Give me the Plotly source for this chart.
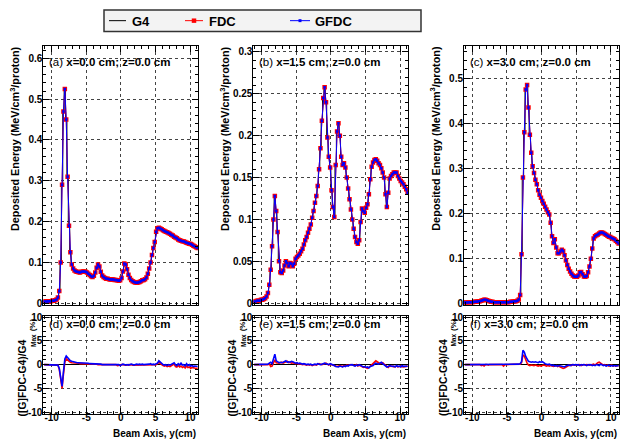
import plotly.graph_objects as go

# ---------------- data ----------------
bin_start = -11.1
bin_width = 0.2
n_bins = 112
beam_y = [round(bin_start + bin_width * i, 1) for i in range(n_bins)]

dose_a = [0.004, 0.004, 0.004, 0.005, 0.005, 0.005, 0.006, 0.006, 0.007, 0.009,
          0.014, 0.03, 0.10, 0.29, 0.47, 0.525, 0.45, 0.31, 0.19, 0.125,
          0.095, 0.085, 0.08, 0.078, 0.077, 0.076, 0.075, 0.077, 0.078, 0.078,
          0.077, 0.075, 0.072, 0.069, 0.066, 0.064, 0.067, 0.075, 0.087, 0.095,
          0.09, 0.077, 0.068, 0.064, 0.062, 0.06, 0.06, 0.059, 0.058, 0.058,
          0.058, 0.057, 0.057, 0.056, 0.055, 0.056, 0.062, 0.078, 0.097, 0.095,
          0.083, 0.07, 0.062, 0.057, 0.054, 0.052, 0.051, 0.05, 0.051, 0.052,
          0.054, 0.056, 0.057, 0.059, 0.063, 0.072, 0.085, 0.1, 0.118, 0.135,
          0.15, 0.175, 0.184, 0.185, 0.183, 0.181, 0.179, 0.177, 0.175, 0.174,
          0.172, 0.17, 0.168, 0.166, 0.163, 0.161, 0.159, 0.156, 0.154, 0.153,
          0.152, 0.151, 0.15, 0.148, 0.147, 0.146, 0.145, 0.143, 0.141, 0.139,
          0.137, 0.135]

dose_b = [0.002, 0.002, 0.003, 0.003, 0.003, 0.004, 0.004, 0.005, 0.006, 0.008,
          0.012, 0.022, 0.04, 0.068, 0.1, 0.128, 0.11, 0.085, 0.05, 0.037,
          0.036, 0.039, 0.045, 0.05, 0.048, 0.044, 0.048, 0.047, 0.044, 0.047,
          0.053, 0.055, 0.057, 0.059, 0.062, 0.065, 0.07, 0.075, 0.079, 0.084,
          0.089, 0.094, 0.102, 0.11, 0.12, 0.128, 0.14, 0.16, 0.185, 0.218,
          0.245, 0.258, 0.24, 0.198, 0.175, 0.162, 0.135, 0.115, 0.103, 0.165,
          0.205, 0.215, 0.2, 0.175, 0.165, 0.167, 0.162, 0.15, 0.137, 0.124,
          0.112, 0.1, 0.089, 0.079, 0.073, 0.071, 0.075, 0.097, 0.113, 0.11,
          0.108, 0.114, 0.118, 0.13, 0.148, 0.163, 0.168, 0.171, 0.172, 0.17,
          0.167, 0.165, 0.161, 0.156, 0.15, 0.13, 0.115, 0.132, 0.149, 0.152,
          0.154, 0.156, 0.156, 0.156, 0.152, 0.149, 0.146, 0.144, 0.142, 0.139,
          0.136, 0.132]

dose_c = [0.003, 0.003, 0.003, 0.004, 0.004, 0.004, 0.004, 0.005, 0.005, 0.005,
          0.006, 0.006, 0.007, 0.008, 0.009, 0.009, 0.008, 0.007, 0.006, 0.005,
          0.005, 0.004, 0.004, 0.004, 0.004, 0.004, 0.004, 0.004, 0.004, 0.004,
          0.004, 0.004, 0.004, 0.005, 0.005, 0.005, 0.006, 0.006, 0.007, 0.01,
          0.02, 0.11, 0.28, 0.38, 0.475, 0.485, 0.435, 0.375, 0.335, 0.305,
          0.29, 0.275, 0.265, 0.252, 0.242, 0.235, 0.228, 0.222, 0.215, 0.209,
          0.203, 0.198, 0.18, 0.15, 0.135, 0.143, 0.125, 0.112, 0.112, 0.116,
          0.12, 0.117, 0.108, 0.096, 0.086, 0.078, 0.072, 0.067, 0.063, 0.061,
          0.06, 0.06, 0.063, 0.07, 0.071, 0.066, 0.061, 0.06, 0.062, 0.07,
          0.083, 0.1, 0.123, 0.145, 0.15, 0.152, 0.154, 0.156, 0.158, 0.158,
          0.157, 0.155, 0.153, 0.151, 0.149, 0.148, 0.146, 0.145, 0.143, 0.14,
          0.137, 0.134]

# (G)FDC-G4 differences, % of G4 max
diff_gfdc_a = [0, 0, 0, 0, 0, 0, 0, 0, 0, 0,
               -0.1, -0.8, -2.5, -4.6, -1.5, 1.2, 1.8, 1.4, 1.0, 0.8,
               0.7, 0.6, 0.5, 0.5, 0.4, 0.4, 0.4, 0.3, 0.3, 0.3,
               0.3, 0.3, 0.3, 0.2, 0.2, 0.2, 0.2, 0.2, 0.2, 0.1,
               0.1, 0.1, 0.0, 0.0, -0.1, 0.0, -0.1, 0.0, -0.1, 0.0,
               -0.1, 0.0, -0.1, -0.1, 0.0, -0.2, 0.0, 0.1, 0.0, -0.1,
               0.0, -0.1, 0.0, 0.1, 0.0, -0.1, 0.0, 0.1, 0.0, 0.1,
               0.0, 0.1, 0.0, 0.0, 0.1, 0.0, 0.1, 0.2, 0.0, 0.1,
               0.0, 0.2, 0.3, 0.8, 0.5, 0.1, 0.0, -0.1, 0.0, -0.2,
               0.0, -0.1, 0.1, 0.2, 0.4, 0.0, -0.2, 0.2, -0.1, 0.3,
               -0.1, 0.0, -0.3, 0.2, -0.2, 0.0, -0.3, -0.2, -0.4, -0.3,
               -0.3, -0.4]
diff_fdc_a = [0, 0, 0, 0, 0, 0, 0, 0, 0, 0,
              -0.1, -1.0, -2.8, -5.0, -2.0, 0.5, 1.2, 0.9, 0.6, 0.5,
              0.4, 0.4, 0.3, 0.3, 0.3, 0.3, 0.2, 0.2, 0.2, 0.2,
              0.2, 0.2, 0.2, 0.1, 0.1, 0.1, 0.1, 0.1, 0.1, 0.0,
              0.0, 0.0, -0.1, 0.0, -0.1, -0.1, 0.0, -0.1, 0.0, -0.1,
              -0.1, -0.1, 0.0, -0.2, -0.1, -0.1, 0.0, 0.0, -0.1, -0.1,
              -0.1, 0.0, -0.1, 0.0, -0.1, -0.1, 0.0, -0.1, -0.1, 0.0,
              -0.1, 0.0, -0.1, -0.1, 0.0, -0.1, 0.0, 0.0, -0.1, 0.0,
              -0.1, 0.0, 0.2, 0.5, 0.2, -0.1, -0.2, -0.3, -0.2, -0.4,
              -0.3, -0.4, -0.2, -0.1, 0.1, -0.4, -0.5, -0.2, -0.5, -0.3,
              -0.6, -0.4, -0.7, -0.3, -0.6, -0.5, -0.8, -0.6, -0.7, -0.7,
              -0.8, -0.7]

diff_gfdc_b = [0, 0, 0, 0, 0, 0, 0, 0, 0, 0,
               0.1, 0.3, 0.5, 0.2, 1.0, 2.2, 0.8, 0.5, 0.4, 0.5,
               0.4, 0.5, 0.6, 0.8, 0.5, 0.6, 0.5, 0.7, 0.6, 0.4,
               0.3, 0.4, 0.2, 0.3, 0.2, 0.1, 0.2, 0.1, 0.0, 0.1,
               0.0, 0.1, -0.1, 0.0, 0.1, 0.0, 0.2, 0.1, 0.0, 0.1,
               0.2, 0.3, 0.2, 0.1, 0.0, 0.2, 0.1, -0.1, -0.2, -0.4,
               -0.5, -0.5, -0.3, -0.4, -0.5, -0.3, -0.4, -0.2, -0.3, -0.1,
               -0.1, 0.0, -0.2, -0.3, -0.1, -0.2, 0.0, -0.2, -0.3, -0.5,
               -0.4, -0.6, -0.5, -0.7, -0.4, -0.3, -0.2, 0.1, 0.3, 0.2,
               0.1, 0.3, 0.5, 0.2, 0.0, -0.3, -0.5, -0.4, -0.2, -0.3,
               -0.4, -0.3, -0.5, -0.2, -0.4, -0.3, -0.5, -0.2, -0.4, -0.3,
               -0.4, -0.3]
diff_fdc_b = [0, 0, 0, 0, 0, 0, 0, 0, 0, 0,
              0.0, 0.2, -0.4, -0.3, 0.2, 1.0, 0.4, 0.3, 0.3, 0.4,
              0.5, 0.3, 0.4, 0.5, 0.7, 0.4, 0.5, 0.3, 0.4, 0.3,
              0.2, 0.3, 0.1, 0.2, 0.1, 0.0, 0.1, 0.0, -0.1, 0.0,
              -0.1, 0.0, -0.2, -0.1, 0.0, -0.1, 0.0, 0.2, 0.1, 0.0,
              0.1, 0.2, 0.3, 0.1, -0.1, 0.1, 0.0, -0.2, -0.3, -0.3,
              -0.4, -0.3, -0.2, -0.3, -0.4, -0.2, -0.3, -0.1, -0.2, -0.1,
              0.0, -0.1, -0.2, -0.2, 0.0, -0.3, -0.1, -0.3, -0.4, -0.6,
              -0.5, -0.7, -0.8, -0.6, -0.3, -0.1, 0.2, 0.5, 0.8, 0.6,
              0.4, 0.2, 0.3, 0.4, 0.1, -0.2, -0.4, -0.6, -0.3, -0.4,
              -0.3, -0.5, -0.4, -0.3, -0.5, -0.4, -0.3, -0.5, -0.4, -0.5,
              -0.3, -0.4]

diff_gfdc_c = [0, 0, 0, 0, 0, 0, 0, 0, 0, 0,
               0, 0, 0, 0, 0, 0, 0, 0, 0, 0,
               0, 0, 0, 0, 0, 0, 0, 0, 0, 0,
               0, 0, 0, 0, 0, 0, 0, 0, 0.0, 0.1,
               0.2, 0.6, 3.0, 2.6, 1.7, 1.0, 0.7, 0.6, 0.5, 0.6,
               0.5, 0.6, 0.5, 0.4, 0.6, 0.5, 0.6, 0.3, 0.2, 0.1,
               0.0, 0.1, -0.1, -0.2, -0.1, -0.3, -0.2, -0.3, -0.2, -0.3,
               -0.4, -0.4, -0.5, -0.3, -0.2, -0.1, -0.2, -0.1, 0.0, -0.1,
               0.0, -0.1, 0.0, -0.2, 0.0, -0.1, 0.0, -0.1, -0.2, 0.0,
               -0.1, 0.0, -0.2, -0.1, -0.2, 0.0, -0.1, -0.2, 0.1, -0.1,
               -0.2, -0.1, -0.3, -0.2, -0.1, -0.3, -0.2, -0.3, -0.1, -0.3,
               -0.2, -0.3]
diff_fdc_c = [0, 0, 0, 0, 0, 0, 0, 0, 0, 0,
              0, 0, -0.2, -0.1, -0.3, 0, 0, -0.1, 0, 0,
              0, 0, 0, 0, 0, 0, 0, 0, -0.3, 0,
              0, 0, 0, 0, 0, 0, 0, 0, 0, 0,
              0.1, 0.4, 2.0, 1.8, 0.8, 0.3, -0.1, -0.2, -0.1, -0.2,
              -0.2, -0.1, -0.2, -0.3, -0.2, -0.3, -0.2, -0.1, -0.2, -0.3,
              -0.2, -0.3, -0.2, -0.3, -0.4, -0.3, -0.2, -0.4, -0.3, -0.5,
              -0.7, -0.8, -0.7, -0.5, -0.3, -0.2, -0.1, -0.2, 0.0, -0.1,
              -0.1, 0.0, -0.1, 0.0, -0.2, -0.1, 0.0, -0.1, 0.0, -0.1,
              0.0, -0.1, 0.0, 0.1, -0.1, 0.2, 0.4, 0.5, 0.2, 0.1,
              -0.1, 0.0, -0.2, -0.1, -0.3, -0.2, -0.1, -0.3, -0.2, -0.3,
              -0.2, -0.3]

panel_labels_top = ["(a)", "(b)", "(c)"]
panel_labels_bot = ["(d)", "(e)", "(f)"]
positions = ["x=0.0 cm; z=0.0 cm", "x=1.5 cm; z=0.0 cm", "x=3.0 cm; z=0.0 cm"]
series_names = ["G4", "FDC", "GFDC"]
series_colors = ["black", "red", "blue"]
x_tick_vals = [-10, -5, 0, 5, 10]
x_tick_text = ["-10", "-5", "0", "5", "10"]
diff_tick_vals = [-10, -5, 0, 5, 10]
diff_tick_text = ["-10", "-5", "0", "5", "10"]

doses = [dose_a, dose_b, dose_c]
diffs_fdc = [diff_fdc_a, diff_fdc_b, diff_fdc_c]
diffs_gfdc = [diff_gfdc_a, diff_gfdc_b, diff_gfdc_c]

# ---------------- style / layout ----------------
W, H = 624, 448
FONT = "Liberation Sans"
panel_left = [43.4, 253.4, 464.0]
panel_right = [198.3, 408.3, 619.3]
top_px = (43.0, 307.0)
bot_px = (318.0, 418.0)
top_ranges = [[-0.004, 0.63], [-0.002, 0.307], [-0.002, 0.571]]
top_dticks = [0.1, 0.05, 0.1]
top_minor = [0.02, 0.01, 0.02]
x_range = [-11.2, 11.2]


def px(x):
    return x / W


def py(y):
    return 1 - y / H


fig = go.Figure()

tickfont = dict(family=FONT, size=10, color="black", weight="bold")


def axis_common():
    return dict(showline=True, linecolor="black", linewidth=1, mirror="ticks",
                ticks="inside", ticklen=6, tickcolor="black", tickwidth=1,
                showgrid=True, gridcolor="#444444", griddash="dot", gridwidth=1,
                tickfont=tickfont)


layout_axes = {}
for p in range(3):
    dom_x = [px(panel_left[p]), px(panel_right[p])]
    it = 2 * p + 1   # top axes index
    ib = 2 * p + 2   # bottom axes index
    sx_t = "" if it == 1 else str(it)
    sx_b = str(ib)

    ax = axis_common()
    ax.update(domain=dom_x, anchor="y" + sx_t, range=x_range, tickmode="array",
              tickvals=x_tick_vals, ticktext=x_tick_text, showticklabels=False,
              zeroline=False,
              minor=dict(tickmode="linear", tick0=0, dtick=1, ticks="inside",
                         ticklen=3, tickcolor="black", showgrid=False))
    layout_axes["xaxis" + sx_t] = ax
    ay = axis_common()
    ay.update(domain=[py(top_px[1]), py(top_px[0])], anchor="x" + sx_t,
              range=top_ranges[p], dtick=top_dticks[p], tick0=0, zeroline=False,
              ticklabelstandoff=-2,
              minor=dict(dtick=top_minor[p], tick0=0, ticks="inside", ticklen=3,
                         tickcolor="black", showgrid=False))
    layout_axes["yaxis" + sx_t] = ay

    bx = axis_common()
    bx.update(domain=dom_x, anchor="y" + sx_b, range=x_range, tickmode="array",
              tickvals=x_tick_vals, ticktext=x_tick_text, zeroline=False,
              ticklabelstandoff=-6,
              minor=dict(tickmode="linear", tick0=0, dtick=1, ticks="inside",
                         ticklen=3, tickcolor="black", showgrid=False))
    layout_axes["xaxis" + sx_b] = bx
    by = axis_common()
    by.update(domain=[py(bot_px[1]), py(bot_px[0])], anchor="x" + sx_b,
              range=[-10.3, 10.3], tickmode="array", tickvals=diff_tick_vals,
              ticktext=diff_tick_text, zeroline=True, zerolinecolor="black",
              zerolinewidth=1, ticklabelstandoff=-2,
              minor=dict(tickmode="linear", tick0=0, dtick=1, ticks="inside",
                         ticklen=3, tickcolor="black", showgrid=False))
    layout_axes["yaxis" + sx_b] = by

    xa_t, ya_t = "x" + sx_t, "y" + sx_t
    fig.add_trace(go.Scatter(x=beam_y, y=doses[p], mode="lines", name=series_names[0],
                             line=dict(color=series_colors[0], width=1, shape="hvh"),
                             xaxis=xa_t, yaxis=ya_t, showlegend=False))
    fig.add_trace(go.Scatter(x=beam_y, y=doses[p], mode="lines+markers", name=series_names[1],
                             line=dict(color=series_colors[1], width=1),
                             marker=dict(symbol="square", size=4.5, color=series_colors[1]),
                             xaxis=xa_t, yaxis=ya_t, showlegend=False))
    fig.add_trace(go.Scatter(x=beam_y, y=doses[p], mode="lines+markers", name=series_names[2],
                             line=dict(color=series_colors[2], width=1),
                             marker=dict(symbol="square", size=2.5, color=series_colors[2]),
                             xaxis=xa_t, yaxis=ya_t, showlegend=False))
    xa_b, ya_b = "x" + sx_b, "y" + sx_b
    fig.add_trace(go.Scatter(x=beam_y, y=diffs_fdc[p], mode="lines", name=series_names[1],
                             line=dict(color=series_colors[1], width=1.6),
                             xaxis=xa_b, yaxis=ya_b, showlegend=False))
    fig.add_trace(go.Scatter(x=beam_y, y=diffs_gfdc[p], mode="lines", name=series_names[2],
                             line=dict(color=series_colors[2], width=1.6),
                             xaxis=xa_b, yaxis=ya_b, showlegend=False))

fig.update_layout(**layout_axes)

annotations = []
shapes = []
for p in range(3):
    L = panel_left[p]
    R = panel_right[p]
    annotations.append(dict(
        x=px(L + 4), y=py(59.3), xref="paper", yref="paper", xanchor="left", yanchor="middle",
        text=panel_labels_top[p] + " <b>" + positions[p] + "</b>", showarrow=False,
        font=dict(family=FONT, size=11.5, color="black")))
    annotations.append(dict(
        x=px(L + 4), y=py(326.7), xref="paper", yref="paper", xanchor="left", yanchor="middle",
        text=panel_labels_bot[p] + " <b>" + positions[p] + "</b>", showarrow=False,
        font=dict(family=FONT, size=11.5, color="black")))
    annotations.append(dict(
        x=px(L - 29), y=py(41), xref="paper", yref="paper", xanchor="center", yanchor="top",
        text="<b>Deposited Energy (MeV/cm<sup>3</sup>/proton)</b>", textangle=-90,
        showarrow=False, font=dict(family=FONT, size=10.8, color="black")))
    annotations.append(dict(
        x=px(L - 21), y=py(423), xref="paper", yref="paper", xanchor="center", yanchor="bottom",
        text="<b>([G]FDC-G4)/G4</b>", textangle=-90,
        showarrow=False, font=dict(family=FONT, size=10.3, color="black")))
    annotations.append(dict(
        x=px(L - 10), y=py(343.5), xref="paper", yref="paper", xanchor="center", yanchor="middle",
        text="<b>Max</b>", textangle=-90,
        showarrow=False, font=dict(family=FONT, size=6.5, color="black")))
    annotations.append(dict(
        x=px(L - 10), y=py(327.5), xref="paper", yref="paper", xanchor="center", yanchor="middle",
        text="<b>(%)</b>", textangle=-90,
        showarrow=False, font=dict(family=FONT, size=8, color="black")))
    annotations.append(dict(
        x=px(R), y=py(438), xref="paper", yref="paper", xanchor="right", yanchor="middle",
        text="<b>Beam Axis, y(cm)</b>", showarrow=False,
        font=dict(family=FONT, size=10, color="black")))

# legend box (drawn manually, ROOT style)
legend_box = (104, 6, 421, 28)
legend_line_x = [(109, 126), (185, 203), (290, 310)]
legend_text_x = [130, 207, 313]
legend_marker_size = [0, 4.5, 3]
ly = 17
shapes.append(dict(type="rect", xref="paper", yref="paper",
                   x0=px(legend_box[0]), x1=px(legend_box[2]),
                   y0=py(legend_box[3]), y1=py(legend_box[1]),
                   fillcolor="#f3f3f3", line=dict(color="#333333", width=1.5), layer="above"))
for k in range(3):
    x0, x1 = legend_line_x[k]
    shapes.append(dict(type="line", xref="paper", yref="paper",
                       x0=px(x0), x1=px(x1), y0=py(ly), y1=py(ly),
                       line=dict(color=series_colors[k], width=1), layer="above"))
    if legend_marker_size[k]:
        xm = (x0 + x1) / 2
        s = legend_marker_size[k] / 2
        shapes.append(dict(type="rect", xref="paper", yref="paper",
                           x0=px(xm - s), x1=px(xm + s), y0=py(ly + s), y1=py(ly - s),
                           fillcolor=series_colors[k], line=dict(width=0), layer="above"))
    annotations.append(dict(
        x=px(legend_text_x[k]), y=py(ly + 0.5), xref="paper", yref="paper",
        xanchor="left", yanchor="middle", text="<b>" + series_names[k] + "</b>",
        showarrow=False, font=dict(family=FONT, size=13, color="black")))

fig.update_layout(
    width=W, height=H,
    margin=dict(l=0, r=0, t=0, b=0),
    paper_bgcolor="white", plot_bgcolor="white",
    font=dict(family=FONT, color="black"),
    annotations=annotations,
    shapes=shapes,
    showlegend=False,
)

fig.write_html("out.html",
               config={"displayModeBar": False},
               post_script="document.body.style.margin='0';document.body.style.padding='0';"
                           "document.body.style.overflow='hidden';")
